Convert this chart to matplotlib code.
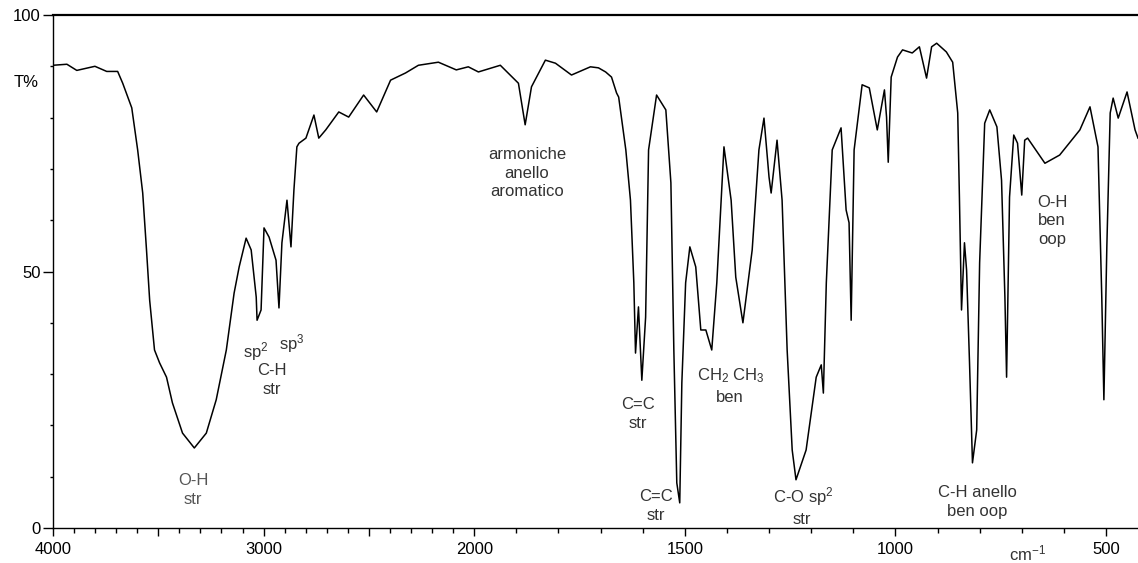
import numpy as np
import matplotlib
matplotlib.use('Agg')
import matplotlib.pyplot as plt
from matplotlib.ticker import FixedLocator, FixedFormatter

plt.rcParams['font.family'] = ['Liberation Sans', 'DejaVu Sans']
plt.rcParams['mathtext.fontset'] = 'custom'
plt.rcParams['mathtext.rm'] = 'Liberation Sans'
plt.rcParams['mathtext.it'] = 'Liberation Sans:italic'

# IR spectrum (cm-1, T%)
wavenumber = [4000, 3934, 3887, 3801, 3745, 3693, 3669, 3626, 3598, 3574,
              3556, 3541, 3518, 3494, 3461, 3433, 3385, 3329, 3272, 3225,
              3177, 3140, 3116, 3083, 3059, 3035, 3031, 3012, 2998, 2974,
              2941, 2927, 2913, 2889, 2870, 2856, 2842, 2832, 2799, 2761,
              2738, 2705, 2643, 2596, 2525, 2463, 2397, 2326, 2265, 2170,
              2085, 2028, 1990, 1938, 1895, 1879, 1864, 1831, 1807, 1769,
              1724, 1705, 1688, 1674, 1662, 1657, 1640, 1629, 1621, 1617,
              1610, 1602, 1593, 1586, 1567, 1545, 1533, 1526, 1519, 1512,
              1507, 1498, 1488, 1474, 1462, 1450, 1436, 1424, 1407, 1390,
              1379, 1362, 1340, 1324, 1312, 1300, 1295, 1281, 1269, 1257,
              1245, 1236, 1212, 1188, 1176, 1171, 1164, 1150, 1129, 1117,
              1110, 1105, 1098, 1079, 1062, 1043, 1026, 1021, 1017, 1010,
              995, 983, 960, 943, 926, 914, 902, 879, 864, 852,
              848, 843, 836, 831, 824, 817, 807, 800, 788, 776,
              759, 748, 740, 736, 729, 719, 710, 700, 693, 686,
              645, 610, 562, 538, 519, 510, 505, 498, 490, 483,
              471, 450, 431, 424]
transmittance = [90.2, 90.4, 89.2, 90.0, 89.0, 89.0, 86.7, 81.9, 73.7, 65.3,
                 54.2, 44.4, 34.7, 32.2, 29.4, 24.4, 18.5, 15.6, 18.5, 25.0,
                 34.7, 45.8, 50.9, 56.5, 54.2, 45.0, 40.5, 42.5, 58.5, 56.7,
                 52.2, 42.9, 55.6, 63.9, 54.8, 65.9, 74.3, 75.0, 76.0, 80.5,
                 76.0, 77.6, 81.1, 80.1, 84.4, 81.1, 87.3, 88.7, 90.2, 90.8,
                 89.3, 89.9, 88.9, 90.2, 86.7, 78.6, 86.0, 91.2, 90.6, 88.3,
                 89.9, 89.7, 88.9, 87.9, 84.8, 84.0, 73.7, 63.9, 47.8, 34.1,
                 43.1, 28.8, 41.1, 73.7, 84.4, 81.5, 67.3, 34.7, 8.8, 4.9,
                 28.3, 47.8, 54.8, 50.9, 38.6, 38.6, 34.7, 47.8, 74.3, 63.9,
                 48.9, 40.0, 54.2, 73.7, 79.9, 68.4, 65.3, 75.6, 63.9, 34.7,
                 15.2, 9.4, 15.2, 29.4, 31.8, 26.3, 47.8, 73.7, 78.0, 62.0,
                 59.5, 40.5, 73.7, 86.4, 85.8, 77.6, 85.4, 80.1, 71.3, 87.9,
                 91.8, 93.2, 92.6, 93.8, 87.7, 93.8, 94.5, 92.8, 90.8, 80.9,
                 64.5, 42.5, 55.6, 50.3, 32.2, 12.7, 19.1, 51.7, 78.9, 81.5,
                 78.2, 67.8, 45.0, 29.4, 64.5, 76.6, 75.0, 64.9, 75.6, 76.0,
                 71.1, 72.7, 77.6, 82.1, 74.3, 45.0, 25.0, 54.8, 80.9, 83.8,
                 79.9, 85.0, 77.6, 76.0]

x_major = [4000, 3500, 3000, 2500, 2000, 1500, 1000, 500]
x_major_labels = ['4000', '', '3000', '', '2000', '1500', '1000', '500']
y_major = [0, 50, 100]

W, H = 1138, 563


# the x axis is compressed 2x above 2000 cm-1, like the original spectrum
def fwd(x):
    x = np.asarray(x, dtype=float)
    return np.where(x >= 2000, x, 2 * x - 2000)


def inv(y):
    y = np.asarray(y, dtype=float)
    return np.where(y >= 2000, y, (y + 2000) / 2)


def px(x, y):
    return x / W, 1 - y / H


fig = plt.figure(figsize=(W / 100, H / 100), dpi=100)
ax = fig.add_axes([53 / W, 1 - 528 / H, 1 - 53 / W, (528 - 15) / H])
ax.set_xscale('function', functions=(fwd, inv))
ax.plot(wavenumber, transmittance, color='black', lw=1.1)
ax.set_xlim(4000, 424)
ax.set_ylim(0, 100)

ax.xaxis.set_major_locator(FixedLocator(x_major))
ax.xaxis.set_major_formatter(FixedFormatter(x_major_labels))
ax.xaxis.set_minor_locator(FixedLocator(list(range(500, 4001, 100))))
ax.yaxis.set_major_locator(FixedLocator(y_major))
ax.yaxis.set_minor_locator(FixedLocator(list(range(0, 101, 10))))

ax.tick_params(axis='x', which='major', length=6, width=1, pad=4, labelsize=12)
ax.tick_params(axis='x', which='minor', length=3.5, width=1)
ax.tick_params(axis='y', which='major', length=7, width=1, pad=2, labelsize=12)
ax.tick_params(axis='y', which='minor', length=2.5, width=1)

ax.spines['right'].set_visible(False)
ax.spines['top'].set_linewidth(1.6)
for s in ['left', 'bottom']:
    ax.spines[s].set_linewidth(1)

fig.text(*px(26, 83), 'T%', ha='center', va='center', fontsize=12)

c = '#333333'
labels = [
    (193, 490, 'O-H\nstr', '#555555'),
    (272, 380, 'C-H\nstr', c),
    (527, 173, 'armoniche\nanello\naromatico', c),
    (638, 414, 'C=C\nstr', c),
    (656, 506, 'C=C\nstr', c),
    (730, 397, 'ben', c),
    (802, 519, 'str', c),
    (977, 502, 'C-H anello\nben oop', c),
    (1052, 221, 'O-H\nben\noop', c),
]
for x, y, t, col in labels:
    fig.text(*px(x, y), t, ha='center', va='center', fontsize=12,
             color=col, linespacing=1.3)

fig.text(*px(256, 357), r'sp$^{\mathrm{2}}$', ha='center', va='baseline', fontsize=12, color=c)
fig.text(*px(292, 349), r'sp$^{\mathrm{3}}$', ha='center', va='baseline', fontsize=12, color=c)
fig.text(*px(731, 380), r'CH$_{\mathrm{2}}$ CH$_{\mathrm{3}}$', ha='center', va='baseline', fontsize=12, color=c)
fig.text(*px(803, 502), r'C-O sp$^{\mathrm{2}}$', ha='center', va='baseline', fontsize=12, color=c)
fig.text(*px(1028, 560), r'cm$^{\mathrm{-1}}$', ha='center', va='baseline', fontsize=12, color=c)

fig.savefig('out.png', dpi=100)
